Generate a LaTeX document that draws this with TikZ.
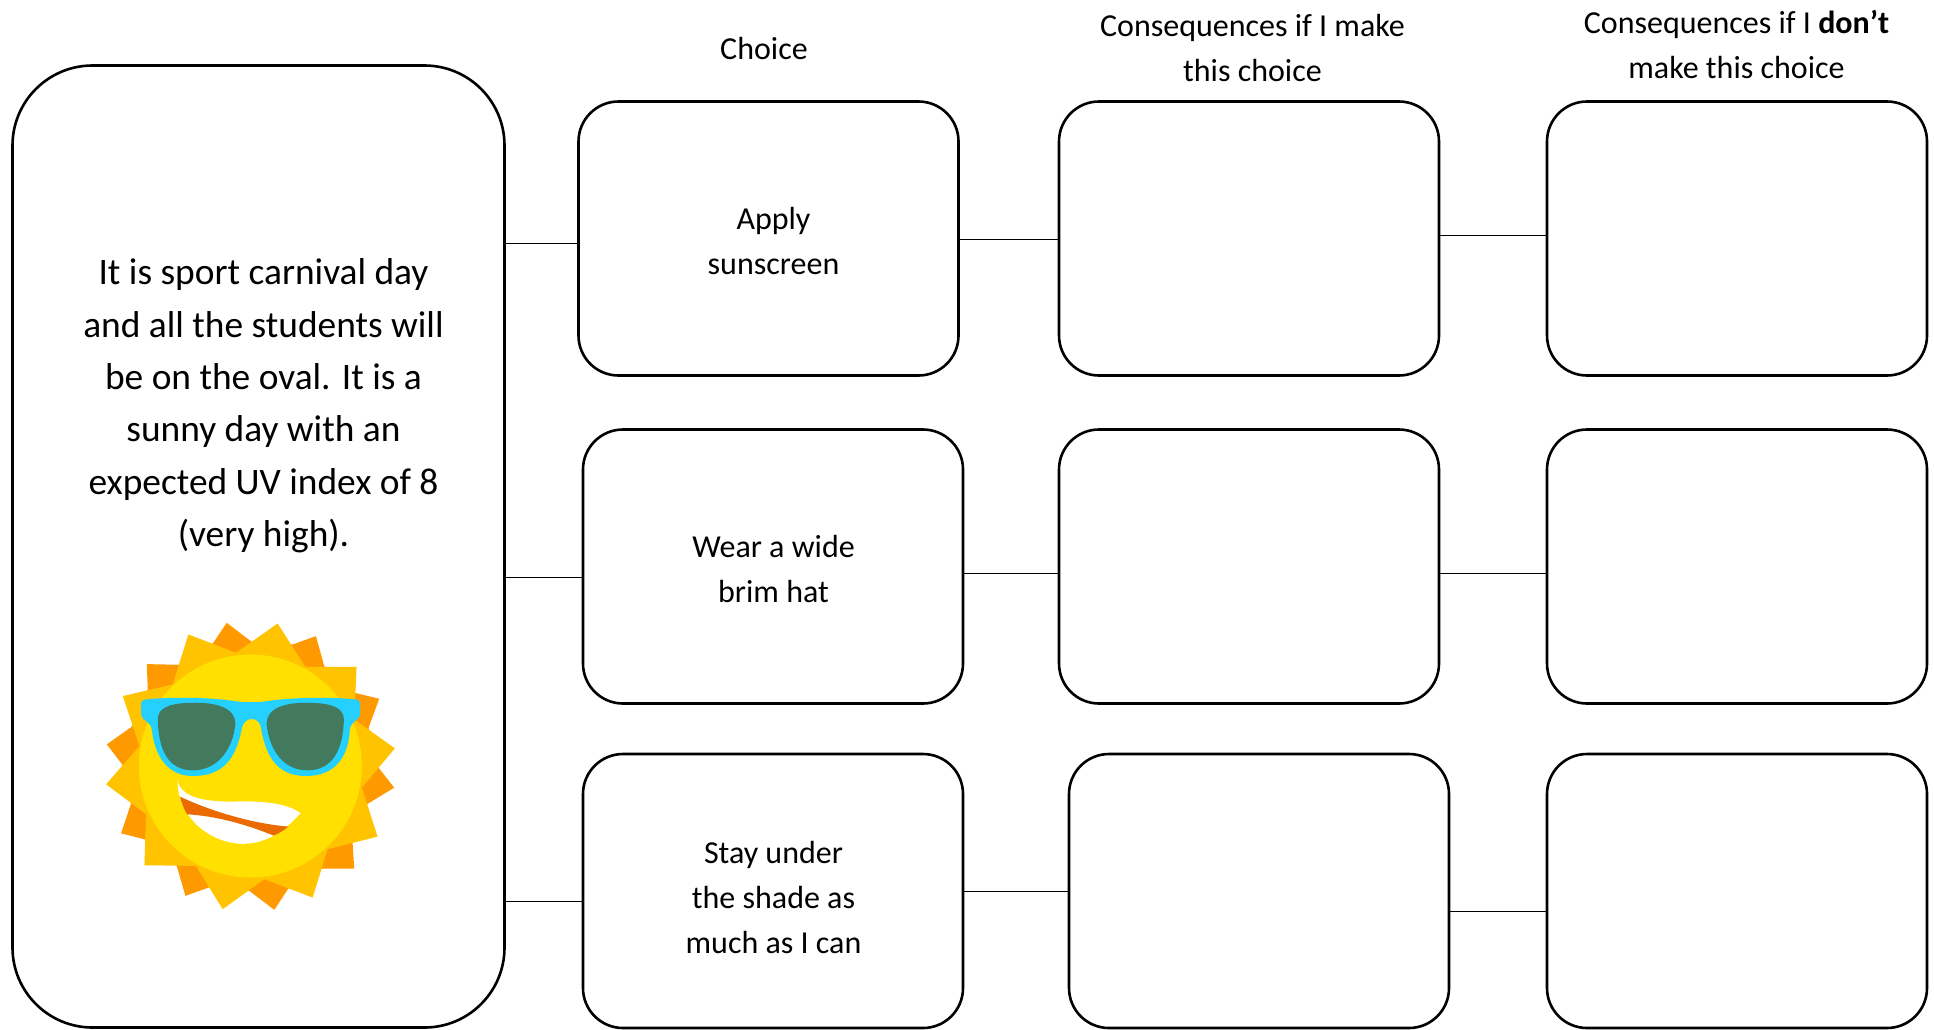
\documentclass[tikz,border=0pt]{standalone}
\usepackage{fontspec}
\setmainfont{Carlito}
\definecolor{sunA}{HTML}{FF9900}
\definecolor{sunB}{HTML}{FFC300}
\definecolor{sunC}{HTML}{FFE000}
\definecolor{frameC}{HTML}{25D0FF}
\definecolor{lensC}{HTML}{437A5E}
\definecolor{mouthC}{HTML}{EA6A00}
\tikzset{
  card/.style={draw=black,line width=2.6pt,rounded corners=40pt,fill=white,inner sep=0pt,minimum width=380pt,minimum height=274pt},
  bigcard/.style={card,rounded corners=80pt,minimum width=492pt,minimum height=962pt},
  link/.style={draw=black,line width=1.2pt},
  small/.style={align=center,inner sep=0pt,font=\fontsize{32pt}{45pt}\selectfont},
  big/.style={align=center,inner sep=0pt,font=\fontsize{37.4pt}{52.4pt}\selectfont}
}
\begin{document}
\begin{tikzpicture}[x=1pt,y=-1pt]
\useasboundingbox (0,0) rectangle (1934,1029);
\node[bigcard] (left) at (258.5,546.5) {};
\node[card] (ch1) at (768.5,238.5) {};
\node[card] (ch2) at (773,566.5) {};
\node[card] (ch3) at (773,891) {};
\node[card] (ca1) at (1249,238.5) {};
\node[card] (ca2) at (1249,566.5) {};
\node[card] (ca3) at (1259,891) {};
\node[card] (cb1) at (1737,238.5) {};
\node[card] (cb2) at (1737,566.5) {};
\node[card] (cb3) at (1737,891) {};
\coordinate (r1a) at (0,243.5);
\coordinate (r1b) at (0,239.5);
\coordinate (r1c) at (0,235.5);
\coordinate (r2a) at (0,577.5);
\coordinate (r2b) at (0,573.5);
\coordinate (r3a) at (0,901.5);
\coordinate (r3b) at (0,891.5);
\coordinate (r3c) at (0,911.5);
\draw[link] (left.east |- r1a) -- (ch1.west |- r1a);
\draw[link] (ch1.east |- r1b) -- (ca1.west |- r1b);
\draw[link] (ca1.east |- r1c) -- (cb1.west |- r1c);
\draw[link] (left.east |- r2a) -- (ch2.west |- r2a);
\draw[link] (ch2.east |- r2b) -- (ca2.west |- r2b);
\draw[link] (ca2.east |- r2b) -- (cb2.west |- r2b);
\draw[link] (left.east |- r3a) -- (ch3.west |- r3a);
\draw[link] (ch3.east |- r3b) -- (ca3.west |- r3b);
\draw[link] (ca3.east |- r3c) -- (cb3.west |- r3c);
\node[big] (story) at (263.5,406) {It is sport carnival day\\and all the students will\\be on the oval. It is a\\sunny day with an\\expected UV index of 8\\(very high).};
\node[small] (t1) at (773.5,241) {Apply\\sunscreen};
\node[small] (t2) at (773.5,569) {Wear a wide\\brim hat};
\node[small] (t3) at (773.5,897.5) {Stay under\\the shade as\\much as I can};
\node[small] (h1) at (764,48) {Choice};
\node[small] (h2) at (1252.5,48) {Consequences if I make\\this choice};
\node[small] (h3) at (1736.5,44.5) {Consequences if I \textbf{don’t}\\make this choice};
\begin{scope}[shift={(89.5,599.5)},x=0.333pt,y=-0.333pt]
\fill[sunA] (372,130)--(412,70)--(487,127)--(610,135)--(680,110)--(705,200)--(795,280)--(870,298)--(838,385)--(868,505)--(915,565)--(825,620)--(790,730)--(795,808)--(700,808)--(597,868)--(555,932)--(480,875)--(358,865)--(288,890)--(262,800)--(172,722)--(95,702)--(125,612)--(98,495)--(52,435)--(127,382)--(175,270)--(172,194)--(267,196)--cycle;
\fill[sunB] (297,105)--(440,160)--(565,72)--(648,202)--(802,202)--(795,360)--(917,447)--(818,565)--(865,712)--(715,750)--(670,895)--(525,840)--(400,930)--(320,800)--(165,798)--(170,645)--(50,555)--(150,440)--(100,290)--(250,255)--cycle;
\fill[sunC] (483,500) circle[radius=335];
\fill[frameC] (155,312) .. controls (155,303) and (165,300) .. (180,299)
 .. controls (260,292) and (370,294) .. (450,307)
 .. controls (470,309) and (500,309) .. (520,307)
 .. controls (600,294) and (710,292) .. (790,299)
 .. controls (805,300) and (813,303) .. (813,312)
 -- (813,345) .. controls (813,360) and (785,365) .. (782,390)
 .. controls (778,470) and (740,530) .. (650,530)
 .. controls (570,530) and (530,480) .. (515,385)
 .. controls (510,350) and (465,350) .. (458,385)
 .. controls (440,480) and (400,530) .. (310,530)
 .. controls (235,530) and (195,470) .. (187,390)
 .. controls (184,365) and (155,365) .. (155,345) -- cycle;
\fill[lensC] (205,360) .. controls (207,450) and (235,513) .. (310,513)
 .. controls (385,513) and (430,450) .. (438,375)
 .. controls (440,325) and (380,310) .. (320,310)
 .. controls (250,310) and (205,320) .. (205,360) -- cycle;
\fill[lensC] (764,360) .. controls (762,450) and (730,513) .. (655,513)
 .. controls (580,513) and (540,450) .. (532,375)
 .. controls (530,325) and (590,310) .. (650,310)
 .. controls (715,310) and (764,320) .. (764,360) -- cycle;
\fill[white] (264,543) .. controls (275,590) and (330,607) .. (430,607)
 .. controls (530,603) and (600,615) .. (634,642)
 .. controls (610,665) and (590,690) .. (555,708)
 .. controls (490,745) and (420,740) .. (360,705)
 .. controls (300,670) and (265,610) .. (264,543) -- cycle;
\fill[mouthC] (272,592) .. controls (330,620) and (460,670) .. (597,682)
 .. controls (585,692) and (570,702) .. (553,709)
 .. controls (470,675) and (380,650) .. (293,645)
 .. controls (283,627) and (276,610) .. (272,592) -- cycle;
\end{scope}
\end{tikzpicture}
\end{document}
